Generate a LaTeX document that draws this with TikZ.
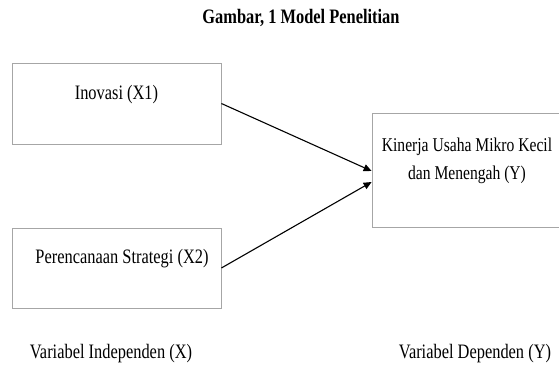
\documentclass[tikz,border=0pt]{standalone}
\usepackage{fontspec}
\setmainfont{Liberation Serif}[FakeStretch=0.8]
\usetikzlibrary{positioning, arrows.meta, calc}

\begin{document}
\begin{tikzpicture}[x=1pt, y=-1pt,
  box/.style={draw=gray!70, line width=0.8pt, rectangle, inner sep=0pt},
  txt/.style={font=\fontsize{20.5}{28}\selectfont, inner sep=0pt, align=center},
  arr/.style={-{Triangle[length=8pt, width=7pt]}, line width=1.1pt}]
\useasboundingbox (0,0) rectangle (559,367);

% Title
\node[txt, font=\bfseries\fontsize{20.5}{24}\selectfont] (title) at (301,18) {Gambar, 1 Model Penelitian};

% Independent variables
\node[box, minimum width=209pt, minimum height=81pt] (x1) at (116.5,103.5) {};
\node[txt] (x1t) at (116.5,95) {Inovasi (X1)};
\node[box, minimum width=209pt, minimum height=80pt] (x2) at (116.5,268) {};
\node[txt] (x2t) at (122,259) {Perencanaan Strategi (X2)};

% Dependent variable
\node[box, minimum width=194pt, minimum height=114pt] (yb) at (469,170) {};
\node[txt, font=\fontsize{19.5}{28}\selectfont] (ybt) at (467,161) {Kinerja Usaha Mikro Kecil\\dan Menengah (Y)};

% Arrows
\draw[arr] (x1.east) -- ([yshift=-1pt]yb.west);
\draw[arr] (x2.east) -- ([yshift=-12pt]yb.west);

% Bottom labels
\node[txt] (indep) at (111,354) {Variabel Independen (X)};
\node[txt] (dep) at (475,354) {Variabel Dependen (Y)};
\end{tikzpicture}
\end{document}
